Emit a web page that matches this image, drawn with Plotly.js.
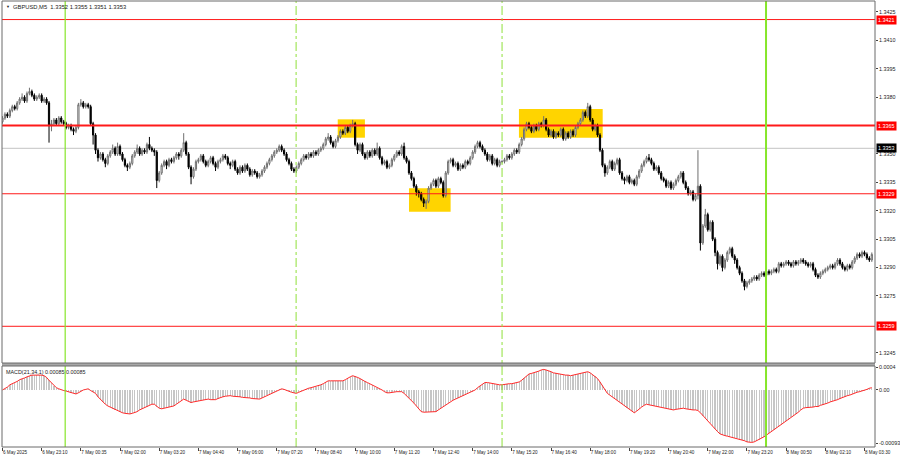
<!DOCTYPE html>
<html>
<head>
<meta charset="utf-8">
<script src="https://cdn.plot.ly/plotly-3.0.1.min.js"></script>
<style>html,body{margin:0;padding:0;background:#fff;}#chart{width:900px;height:460px;}</style>
</head>
<body>
<div id="chart"></div>
<script>
// GBPUSD M5 - prices stored in pips above 1.3000 (e.g. 369 -> 1.3369)
const BASE = 1.3;
const openPips = [
367,369,371,370,373,375,374,377,379,380,
378,382,383,381,379,380,381,378,379,377,
365,366,368,366,369,367,366,364,365,363,
362,364,376,377,375,376,375,366,360,352,
348,350,347,345,349,351,353,350,354,350,
347,344,343,345,349,351,353,350,352,351,
355,353,352,351,336,340,344,346,344,347,
346,348,350,349,352,356,350,343,338,342,
346,347,349,346,344,346,348,345,343,346,
347,349,348,345,344,346,342,340,343,341,
344,342,339,341,340,338,339,341,343,345,
347,349,351,352,354,352,350,347,345,342,
341,343,345,347,349,348,350,349,351,350,
352,353,355,358,359,356,354,357,359,362,
361,364,362,365,366,355,352,355,350,348,
351,349,352,350,353,348,345,346,343,344,
347,349,351,350,354,348,346,340,337,333,
330,329,326,324,325,332,334,336,333,337,
335,328,340,346,347,344,345,342,344,343,
346,345,348,351,354,356,354,352,350,347,
349,345,347,344,346,346,347,349,348,350,
352,351,355,358,363,366,364,362,365,363,
366,365,368,363,360,362,359,361,360,363,
358,361,359,362,360,364,366,368,372,370,
375,368,363,365,360,352,344,340,343,346,
342,345,347,340,337,336,338,335,336,334,
338,341,344,346,348,347,345,342,343,340,
337,336,333,335,332,334,336,338,340,335,
332,329,330,326,328,333,303,312,318,310,
314,305,298,292,296,290,294,298,300,296,
294,290,287,283,280,282,283,284,285,284,
286,287,286,288,287,288,289,288,292,291,
292,293,292,291,293,292,293,294,293,292,
291,292,289,286,285,287,288,289,290,291,
290,292,294,292,290,289,291,290,293,295,
297,296,298,297,295,294];
const highPips = [
370,372,372,374,376,376,378,380,382,381,
383,385,384,382,381,382,382,380,380,378,
368,369,369,370,370,368,367,366,366,364,
365,377,379,378,377,377,376,367,361,353,
351,351,348,350,352,355,354,356,355,351,
348,345,346,350,352,355,354,353,353,356,
359,354,353,352,341,345,347,347,348,348,
349,351,351,353,361,357,351,344,343,347,
348,350,350,347,347,349,349,346,347,348,
350,350,349,346,347,347,343,344,344,345,
345,343,342,342,341,340,342,344,346,348,
350,352,353,355,355,353,351,348,346,343,
344,346,348,350,350,351,351,352,352,353,
354,356,359,361,360,357,358,360,363,363,
365,365,366,368,367,356,356,356,351,352,
352,353,353,356,354,349,347,347,345,348,
350,352,352,355,356,349,347,341,338,334,
331,330,327,326,333,335,337,337,338,338,
336,341,347,348,348,346,346,345,345,347,
347,349,352,355,357,357,355,353,351,350,
350,348,348,347,347,348,350,350,351,353,
353,356,359,364,367,367,365,366,366,367,
367,370,369,364,363,363,362,362,364,364,
362,362,363,363,365,367,369,373,373,377,
376,369,366,366,361,353,345,344,347,347,
346,348,348,341,338,339,339,337,337,339,
342,345,347,349,350,348,346,344,344,341,
338,337,336,336,335,337,339,341,341,336,
333,331,331,329,352,334,313,321,319,315,
315,306,299,297,297,295,299,301,301,297,
295,291,288,284,283,284,285,286,286,287,
288,288,289,289,289,290,290,293,293,293,
294,294,293,294,294,294,295,295,294,293,
293,293,290,287,288,289,290,291,292,292,
293,295,295,293,291,292,292,294,296,298,
298,299,299,298,296,298];
const lowPips = [
366,368,369,369,372,373,373,376,378,377,
377,381,380,378,378,379,377,377,376,356,
362,365,365,365,366,365,363,363,362,360,
361,363,375,374,374,374,365,355,350,346,
347,346,343,344,348,350,349,349,349,346,
343,341,342,344,348,350,349,349,350,350,
352,351,349,332,335,339,343,342,343,345,
345,347,347,348,351,349,342,334,337,341,
345,346,345,343,343,345,344,341,342,345,
346,347,344,342,343,341,339,339,340,340,
341,338,338,339,337,337,338,340,342,344,
346,348,350,351,351,349,346,344,341,340,
340,342,344,346,347,347,348,348,349,349,
351,352,354,357,355,353,353,356,358,360,
360,361,361,364,354,350,351,349,347,347,
348,348,349,349,347,344,344,342,342,343,
346,348,349,349,347,345,339,336,332,328,
327,325,322,321,324,331,333,332,332,334,
327,327,339,345,343,343,341,341,342,342,
344,344,347,350,353,353,351,349,346,346,
344,344,343,343,345,345,346,347,347,349,
350,350,354,357,362,363,361,361,362,362,
364,364,362,359,359,358,358,359,359,357,
357,358,358,359,359,363,365,367,369,369,
367,362,362,359,351,343,338,339,342,341,
341,344,339,336,334,335,334,334,333,333,
337,340,343,345,346,344,341,341,339,336,
335,332,332,331,331,333,335,337,334,331,
328,328,325,325,326,299,302,311,309,309,
304,296,289,291,288,289,293,297,295,292,
289,286,282,278,279,281,282,283,283,283,
285,285,285,286,286,287,287,287,290,290,
291,291,290,290,291,291,292,292,291,290,
290,288,285,284,284,286,287,288,289,289,
289,291,291,289,288,288,289,289,292,294,
295,295,296,294,293,293];
const closePips = [
369,371,370,373,375,374,377,379,380,378,
382,383,381,379,380,381,378,379,377,365,
366,368,366,369,367,366,364,365,363,362,
364,376,377,375,376,375,366,360,352,348,
350,347,345,349,351,353,350,354,350,347,
344,343,345,349,351,353,350,352,351,355,
353,352,351,336,340,344,346,344,347,346,
348,350,349,352,356,350,343,338,342,346,
347,349,346,344,346,348,345,343,346,347,
349,348,345,344,346,342,340,343,341,344,
342,339,341,340,338,339,341,343,345,347,
349,351,352,354,352,350,347,345,342,341,
343,345,347,349,348,350,349,351,350,352,
353,355,358,359,356,354,357,359,362,361,
364,362,365,366,355,352,355,350,348,351,
349,352,350,353,348,345,346,343,344,347,
349,351,350,354,348,346,340,337,333,330,
329,326,324,325,332,334,336,333,337,335,
328,340,346,347,344,345,342,344,343,346,
345,348,351,354,356,354,352,350,347,349,
345,347,344,346,346,347,349,348,350,352,
351,355,358,363,366,364,362,365,363,366,
365,368,363,360,362,359,361,360,363,358,
361,359,362,360,364,366,368,372,370,375,
368,363,365,360,352,344,340,343,346,342,
345,347,340,337,336,338,335,336,334,338,
341,344,346,348,347,345,342,343,340,337,
336,333,335,332,334,336,338,340,335,332,
329,330,326,328,333,303,312,318,310,314,
305,298,292,296,290,294,298,300,296,294,
290,287,283,280,282,283,284,285,284,286,
287,286,288,287,288,289,288,292,291,292,
293,292,291,293,292,293,294,293,292,291,
292,289,286,285,287,288,289,290,291,290,
292,294,292,290,289,291,290,293,295,297,
296,298,297,295,294,297];
// MACD(21,34,1) in units of 0.00001
const macdE5 = [
0,2,5,9,11,12,15,18,19,21,
23,25,26,26,26,27,26,25,22,17,
12,7,4,2,0,-1,-2,-3,-5,-6,
-7,-5,-2,0,1,2,-1,-4,-6,-12,
-17,-21,-25,-28,-30,-33,-35,-36,-38,-40,
-41,-42,-42,-41,-40,-38,-35,-33,-31,-29,
-27,-25,-25,-29,-32,-33,-32,-31,-30,-29,
-28,-25,-22,-19,-16,-18,-20,-22,-21,-20,
-19,-18,-17,-16,-16,-17,-17,-17,-15,-13,
-12,-11,-10,-10,-11,-11,-12,-12,-13,-13,
-14,-14,-15,-15,-16,-16,-14,-12,-9,-7,
-5,-3,-1,1,2,1,-1,-2,-4,-5,
-6,-4,-2,0,2,3,4,5,6,7,
9,11,14,16,16,16,16,16,16,16,
18,21,23,25,24,22,20,17,15,13,
11,9,6,4,2,0,-3,-5,-5,-4,
-4,-3,-3,-3,-6,-10,-14,-18,-23,-28,
-33,-38,-39,-39,-39,-38,-38,-38,-35,-32,
-29,-26,-23,-20,-18,-16,-14,-12,-10,-8,
-6,-4,-3,0,4,7,10,13,13,12,
11,10,9,9,9,10,10,11,11,12,
12,14,17,21,25,28,29,30,32,33,
35,36,35,34,32,30,29,28,28,27,
26,26,25,26,27,28,29,30,31,32,
30,27,24,20,14,8,2,-6,-9,-12,
-15,-18,-21,-25,-28,-31,-34,-37,-40,-37,
-33,-30,-27,-25,-26,-27,-28,-28,-29,-30,
-31,-32,-33,-34,-35,-34,-33,-33,-32,-33,
-34,-34,-35,-35,-36,-40,-45,-49,-53,-58,
-63,-68,-73,-77,-79,-80,-81,-82,-83,-84,
-85,-87,-88,-89,-91,-92,-92,-91,-89,-87,
-85,-82,-79,-76,-73,-70,-67,-64,-61,-58,
-55,-52,-48,-45,-42,-39,-35,-32,-31,-31,
-30,-30,-29,-29,-27,-26,-24,-23,-21,-20,
-18,-17,-15,-13,-12,-10,-9,-7,-5,-4,
-3,-2,-1,1,3,4];

const tickBars = [0,16,32,48,64,80,96,112,128,144,160,176,192,208,224,240,256,272,288,304,320,336,352];
const tickLabels = ["6 May 2025","6 May 23:10","7 May 00:35","7 May 02:00","7 May 03:20","7 May 04:40","7 May 06:00","7 May 07:20","7 May 08:40","7 May 10:00","7 May 11:20","7 May 12:40","7 May 14:00","7 May 15:20","7 May 16:40","7 May 18:00","7 May 19:20","7 May 20:40","7 May 22:00","7 May 23:20","8 May 00:50","8 May 02:10","8 May 03:30"];
const priceTicks = [1.3245,1.3275,1.3290,1.3305,1.3320,1.3335,1.3350,1.3380,1.3395,1.3410,1.3425];
const macdTicks = [0.0004, 0, -0.00093];
const macdTickLabels = ["0.0004","0.00","-0.00093"];
const levels = [1.3421, 1.3365, 1.3329, 1.3259];
const levelWidths = [1, 2, 1, 1];
const currentPrice = 1.3353;
const dayLines = [25.6, 311.8];          // midnight separators (bar positions)
const sessionLines = [119.9, 204.0];     // dash-dot session markers
const boxX0 = [136.9, 166.0, 210.9];
const boxX1 = [148.0, 183.0, 245.1];
const boxY0 = [1.33586, 1.33195, 1.33586];
const boxY1 = [1.33683, 1.33319, 1.33738];
const headerText = "GBPUSD,M5\u00a0\u00a01.3352 1.3355 1.3351 1.3353";
const macdText = "MACD(21,34,1) 0.00085 0.00085";

const n = Math.min(openPips.length, highPips.length, lowPips.length, closePips.length);
const xs = [], o = [], h = [], l = [], c = [];
for (let i = 0; i < n; i++) {
  xs.push(i);
  o.push(BASE + openPips[i] / 1e4);
  h.push(BASE + highPips[i] / 1e4);
  l.push(BASE + lowPips[i] / 1e4);
  c.push(BASE + closePips[i] / 1e4);
}
const mx = macdE5.map((_, i) => i);
const mv = macdE5.map(v => v / 1e5);

const FONT = "Liberation Sans, Arial, sans-serif";
const mainDom = [0.1883, 1];
const macdDom = [0, 0.1816];

const traces = [
  {
    type: 'candlestick', x: xs, open: o, high: h, low: l, close: c,
    xaxis: 'x', yaxis: 'y',
    increasing: {line: {color: '#6f6f6f', width: 1}, fillcolor: '#ffffff'},
    decreasing: {line: {color: '#000000', width: 1}, fillcolor: '#000000'},
    whiskerwidth: 0, hoverinfo: 'skip', showlegend: false
  },
  {
    type: 'bar', x: mx, y: mv, xaxis: 'x', yaxis: 'y2',
    marker: {color: '#c6c6c6', line: {width: 0}}, width: 0.55,
    hoverinfo: 'skip', showlegend: false
  },
  {
    type: 'scatter', mode: 'lines', x: mx, y: mv, xaxis: 'x', yaxis: 'y2',
    line: {color: '#ff2a2a', width: 1}, hoverinfo: 'skip', showlegend: false
  }
];

const shapes = [];
for (let k = 0; k < boxX0.length; k++) {
  shapes.push({type: 'rect', xref: 'x', yref: 'y', x0: boxX0[k], x1: boxX1[k], y0: boxY0[k], y1: boxY1[k],
    fillcolor: '#FFD400', line: {width: 0}, layer: 'below'});
}
shapes.push({type: 'line', xref: 'paper', yref: 'y', x0: 0, x1: 1, y0: currentPrice, y1: currentPrice,
  line: {color: '#c4c4c4', width: 1}, layer: 'below'});
levels.forEach((lv, k) => shapes.push({type: 'line', xref: 'paper', yref: 'y', x0: 0, x1: 1, y0: lv, y1: lv,
  line: {color: '#ff1a1a', width: levelWidths[k]}, layer: 'above'}));
dayLines.forEach((xv, k) => shapes.push({type: 'line', xref: 'x', yref: 'paper', x0: xv, x1: xv, y0: 0, y1: 1,
  line: {color: '#86e62a', width: k === 0 ? 1.2 : 2}, layer: 'above'}));
sessionLines.forEach(xv => shapes.push({type: 'line', xref: 'x', yref: 'paper', x0: xv, x1: xv, y0: 0, y1: 1,
  line: {color: '#8fe03a', width: 1, dash: 'dashdot'}, layer: 'above'}));
// panel frames and separator
shapes.push({type: 'rect', xref: 'paper', yref: 'paper', x0: 0, x1: 1, y0: macdDom[1], y1: mainDom[0],
  fillcolor: '#a8a8a8', line: {width: 0}, layer: 'above'});
shapes.push({type: 'rect', xref: 'paper', yref: 'paper', x0: 0, x1: 1, y0: mainDom[0], y1: mainDom[1],
  line: {color: '#6a6a6a', width: 1}, layer: 'above'});
shapes.push({type: 'rect', xref: 'paper', yref: 'paper', x0: 0, x1: 1, y0: macdDom[0], y1: macdDom[1],
  line: {color: '#6a6a6a', width: 1}, layer: 'above'});

const annotations = [];
levels.forEach(lv => annotations.push({xref: 'paper', yref: 'y', x: 1, y: lv, xanchor: 'left', yanchor: 'middle',
  text: lv.toFixed(4), showarrow: false, bgcolor: '#ff0000', borderpad: 1, xshift: 1,
  font: {family: FONT, size: 5.4, color: '#ffffff'}}));
annotations.push({xref: 'paper', yref: 'y', x: 1, y: currentPrice, xanchor: 'left', yanchor: 'middle',
  text: currentPrice.toFixed(4), showarrow: false, bgcolor: '#000000', borderpad: 1, xshift: 1,
  font: {family: FONT, size: 5.4, color: '#ffffff'}});
annotations.push({xref: 'paper', yref: 'paper', x: 0, y: 1, xanchor: 'left', yanchor: 'top', xshift: 2, yshift: -1,
  text: '\u25BC', showarrow: false, font: {family: FONT, size: 4, color: '#222'}});
annotations.push({xref: 'paper', yref: 'paper', x: 0, y: 1, xanchor: 'left', yanchor: 'top', xshift: 9, yshift: -1,
  text: headerText, showarrow: false, font: {family: FONT, size: 5.8, color: '#222'}});
annotations.push({xref: 'paper', yref: 'paper', x: 0, y: macdDom[1], xanchor: 'left', yanchor: 'top', xshift: 2, yshift: -1,
  text: macdText, showarrow: false, font: {family: FONT, size: 5.4, color: '#222'}});

const layout = {
  width: 900, height: 460,
  margin: {l: 2, r: 25, t: 1, b: 13, pad: 0},
  paper_bgcolor: '#ffffff', plot_bgcolor: '#ffffff',
  showlegend: false, bargap: 0,
  xaxis: {
    anchor: 'y2', range: [-0.2, 356.3], showgrid: false, zeroline: false,
    rangeslider: {visible: false}, tickmode: 'array', tickvals: tickBars, ticktext: tickLabels,
    ticks: 'outside', ticklen: 3, tickcolor: '#444', ticklabelposition: 'outside right',
    tickfont: {family: FONT, size: 4.6, color: '#222'}, showline: false, fixedrange: true
  },
  yaxis: {
    domain: mainDom, anchor: 'x', side: 'right', range: [1.32396, 1.34308],
    showgrid: false, zeroline: false, tickmode: 'array', tickvals: priceTicks,
    ticktext: priceTicks.map(v => v.toFixed(4)),
    ticks: 'outside', ticklen: 2, tickcolor: '#444',
    tickfont: {family: FONT, size: 5.4, color: '#222'}, showline: false
  },
  yaxis2: {
    domain: macdDom, anchor: 'x', side: 'right', range: [-0.0010, 0.00042],
    showgrid: false, zeroline: false, tickmode: 'array', tickvals: macdTicks, ticktext: macdTickLabels,
    ticks: 'outside', ticklen: 2, tickcolor: '#444',
    tickfont: {family: FONT, size: 5.4, color: '#222'}, showline: false
  },
  shapes: shapes,
  annotations: annotations
};

Plotly.newPlot('chart', traces, layout, {staticPlot: true, displayModeBar: false});
</script>
</body>
</html>
